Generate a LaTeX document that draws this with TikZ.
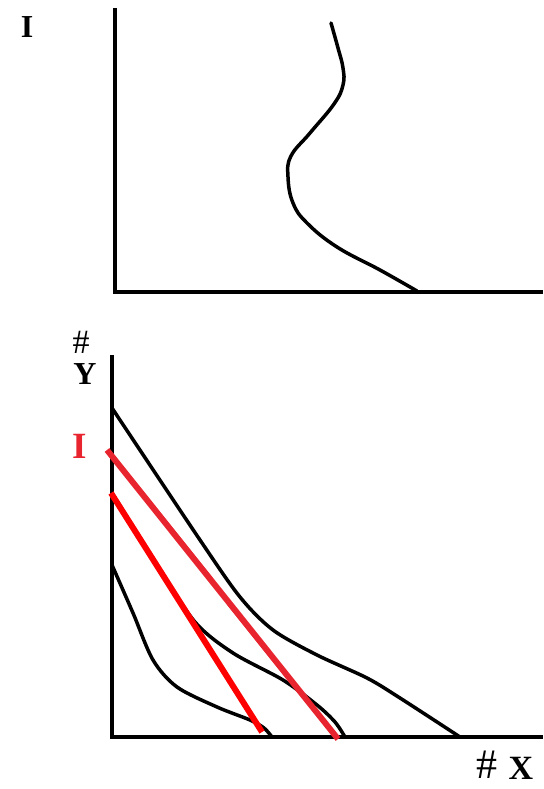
\documentclass[tikz,border=0pt]{standalone}
\usepackage{fontspec}
\setmainfont{Liberation Serif}
\definecolor{lred}{HTML}{E8242E}
\definecolor{pred}{HTML}{FF0000}
\begin{document}
\begin{tikzpicture}[x=1pt,y=-1pt,
  axis/.style={line width=4.5pt},
  crv/.style={line width=3.5pt, line join=round, line cap=round},
  budget/.style={line width=6pt},
  lbl/.style={inner sep=0pt, anchor=base, text height=22pt, text depth=0pt, font=\fontsize{32}{32}\selectfont\bfseries},
  hash/.style={inner sep=0pt, anchor=base, text depth=0pt}]
\useasboundingbox (0,0) rectangle (543,789);
% top panel
\draw[axis] (115,8) -- (115,292) -- (543,292);
\draw[crv] plot[smooth, tension=0.7] coordinates {(331,23) (338,48) (343,68) (343,85) (334,104) (310,133) (291,156) (288,177) (293,203) (307,223) (337,247) (380,270) (417,291)};
\node[lbl] (ti) at (27,38) {I};
% bottom panel
\draw[axis] (112,355) -- (112,737) -- (543,737);
\draw[crv] plot[smooth, tension=0.5] coordinates {(112,408) (200,540) (240,597) (273,630) (317,655) (367,678) (400,698) (460,737)};
\draw[crv] plot[smooth, tension=0.5] coordinates {(112,493) (155,562) (195,622) (233,653) (283,680) (317,705) (335,722) (345,737)};
\draw[crv] plot[smooth, tension=0.5] coordinates {(112,565) (133,613) (153,660) (177,687) (217,707) (250,720) (264,728) (272,737)};
\draw[budget, lred] (107,450) -- (338,739);
\draw[budget, pred] (111,493) -- (262,732);
\node[hash, text height=15pt, font=\fontsize{34}{34}\selectfont] (hy) at (81,353) {\#};
\node[lbl] (y) at (85,384) {Y};
\node[lbl, text height=25pt, font=\fontsize{37}{37}\selectfont\bfseries, text=lred] (ri) at (80,458) {I};
\node[hash, text height=20pt, font=\fontsize{42}{42}\selectfont] (hx) at (487,778) {\#};
\node[lbl, text height=23pt, font=\fontsize{34}{34}\selectfont\bfseries] (x) at (521,779) {X};
\end{tikzpicture}
\end{document}
